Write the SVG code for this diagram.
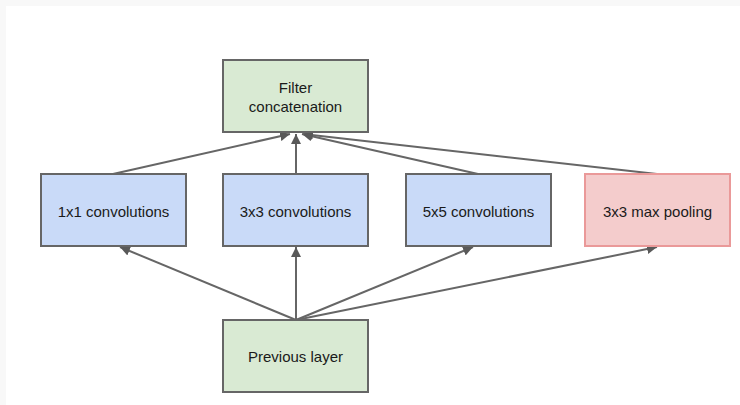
<svg xmlns="http://www.w3.org/2000/svg" width="740" height="405" viewBox="0 0 740 405">
<defs>
<marker id="ah" viewBox="0 0 10 10" refX="10" refY="5" markerWidth="10" markerHeight="10" markerUnits="userSpaceOnUse" orient="auto">
<path d="M0,0 L10,5 L0,10 z" fill="#595959"/>
</marker>
<style>
.box{stroke:#666666;stroke-width:2}
.green{fill:#d9ead3}
.blue{fill:#c9daf8}
.red{fill:#f4cccc;stroke:#ea9999;stroke-width:2}
text{font-family:"Liberation Sans",Arial,sans-serif;font-size:15px;fill:#1a1a1a;text-anchor:middle}
.edge{stroke:#666666;stroke-width:2;fill:none;marker-end:url(#ah)}
</style>
</defs>
<rect x="0" y="0" width="740" height="405" fill="#ffffff"/>
<rect x="0" y="0" width="740" height="6" fill="#f8f8f8"/>
<rect x="0" y="0" width="6" height="405" fill="#f8f8f8"/>
<g id="connectors">
<line class="edge" x1="296" y1="320" x2="120" y2="247"/>
<line class="edge" x1="296" y1="320" x2="296" y2="247"/>
<line class="edge" x1="296" y1="320" x2="473" y2="247"/>
<line class="edge" x1="296" y1="320" x2="657" y2="247"/>
<line class="edge" x1="113" y1="174" x2="290" y2="134"/>
<line class="edge" x1="296" y1="174" x2="296" y2="134"/>
<line class="edge" x1="478" y1="174" x2="302" y2="134"/>
<line class="edge" x1="657" y1="174" x2="303" y2="134"/>
</g>
<g id="filter">
<rect class="box green" x="223" y="60" width="145" height="72"/>
<text x="295.5" y="93">Filter</text>
<text x="295.5" y="112">concatenation</text>
</g>
<g id="conv1x1">
<rect class="box blue" x="41" y="174" width="145" height="72"/>
<text x="113.5" y="217">1x1 convolutions</text>
</g>
<g id="conv3x3">
<rect class="box blue" x="223" y="174" width="145" height="72"/>
<text x="295.5" y="217">3x3 convolutions</text>
</g>
<g id="conv5x5">
<rect class="box blue" x="406" y="174" width="145" height="72"/>
<text x="478.5" y="217">5x5 convolutions</text>
</g>
<g id="maxpool">
<rect class="red" x="585" y="174" width="145" height="72"/>
<text x="657.5" y="217">3x3 max pooling</text>
</g>
<g id="previous">
<rect class="box green" x="223" y="320" width="145" height="72"/>
<text x="295.5" y="362">Previous layer</text>
</g>
</svg>
